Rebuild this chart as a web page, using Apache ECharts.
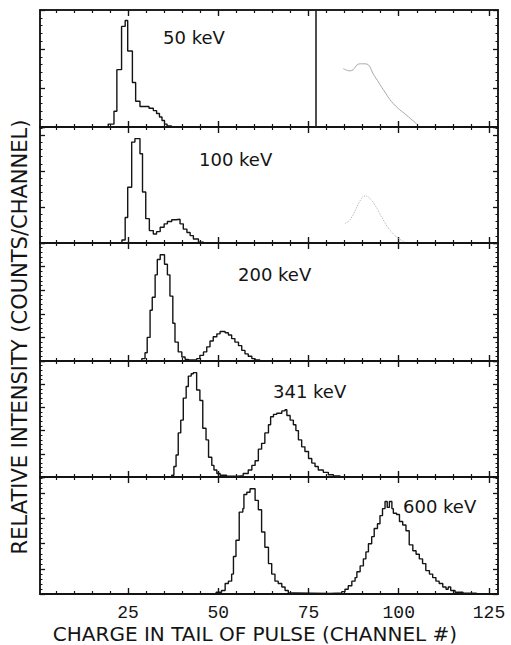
<!DOCTYPE html>
<html><head><meta charset="utf-8">
<script src="https://cdn.jsdelivr.net/npm/echarts@6/dist/echarts.min.js"></script>
<style>html,body{margin:0;padding:0;background:#fff}#c{width:511px;height:645px}</style>
</head><body><div id="c"></div>
<script>
// ---- data (channel edge of each histogram step, relative intensity in % of panel height) ----
const energyLabels = ['50 keV', '100 keV', '200 keV', '341 keV', '600 keV'];
const xTickLabels = [25, 50, 75, 100, 125];
const xMinorTicks = [5,10,15,20,30,35,40,45,55,60,65,70,80,85,90,95,105,110,115,120];

const ch50  = [19.5, 21.1, 21.9, 23.2, 24.2, 24.9, 26.2, 27.1, 28.3, 30.8, 32.0, 32.9, 33.7, 34.4, 35.1, 35.8, 37.0];
const cnt50 = [2.5, 13.5, 49, 86, 91, 65, 38, 22, 17.5, 16, 14, 11.5, 8.5, 5.5, 2.5, 1, 0];

const ch100  = [23.3, 24.2, 24.9, 26.0, 26.9, 28.3, 29.0, 29.9, 30.9, 32.0, 32.9, 33.9, 35.0, 35.9, 37.1, 38.3, 39.4, 40.3, 41.3, 42.2, 43.1, 44.5, 46.0];
const cnt100 = [2.6, 22, 48, 87, 90, 77, 44, 21, 10.7, 7.8, 9.8, 13.6, 16.5, 18.5, 20, 20.5, 16.5, 12, 9, 6.4, 3.5, 0.6, 0];

const ch200  = [28.8, 29.7, 30.3, 31.1, 31.7, 32.5, 33.1, 33.9, 35.1, 35.9, 36.6, 37.4, 38.0, 38.9, 39.9, 40.8, 41.7, 43.0, 44.0, 44.9, 45.9, 46.8, 47.7, 48.6, 49.6, 50.5, 51.9, 52.8, 53.7, 54.6, 55.6, 56.5, 57.4, 58.3, 59.3, 60.2, 61.5];
const cnt200 = [2, 7, 20, 43, 54, 73, 86, 90, 82, 73, 55, 32, 16, 7.7, 3.4, 1.4, 0.8, 1, 2, 4.8, 7.7, 12, 17, 20.5, 23, 25, 24, 22, 19, 16, 13, 9, 6, 4, 2, 0.8, 0];

const ch341  = [37.1, 37.7, 38.3, 38.9, 39.6, 40.3, 41.1, 41.7, 42.5, 43.1, 44.0, 44.9, 45.7, 46.6, 47.3, 48.2, 48.8, 49.6, 50.5, 52.3, 55.5, 56.9, 58.3, 59.3, 60.2, 61.1, 62.0, 62.9, 63.9, 64.5, 65.3, 66.2, 67.6, 68.5, 69.0, 69.9, 70.8, 71.5, 72.2, 73.1, 74.0, 75.0, 75.9, 76.8, 77.7, 79.1, 80.5, 81.9, 83.7];
const cnt341 = [1.5, 9, 19, 38, 49, 68, 78, 87, 89, 90, 75, 66, 42, 32, 17, 10, 6, 3, 1.5, 0.6, 1.2, 3, 6, 10, 14, 24, 29, 38, 45, 52, 54, 55, 57, 58, 53, 49, 45, 40, 32, 26, 22, 16, 12, 9, 6, 4, 2, 1, 0];

const ch600  = [49.4, 50.9, 51.9, 52.8, 53.7, 54.2, 54.9, 55.8, 56.8, 57.1, 57.9, 58.8, 60.2, 61.1, 62.0, 62.9, 63.9, 64.8, 65.7, 66.6, 67.6, 68.5, 69.4, 71.0, 81.0, 84.2, 85.1, 86.0, 87.0, 87.9, 88.4, 89.3, 90.2, 90.9, 91.6, 92.5, 93.2, 94.1, 94.8, 95.5, 96.2, 96.8, 97.4, 98.1, 98.5, 99.4, 100.2, 101.1, 102.0, 102.9, 103.9, 104.8, 105.7, 106.6, 107.5, 108.5, 109.4, 110.3, 111.2, 112.2, 113.1, 113.7, 114.4, 115.6, 117.8, 121.6];
const cnt600 = [1.5, 3, 9, 11, 17, 32, 46, 70, 73, 85, 87, 90, 80, 72, 53, 40, 26, 17, 11, 9, 6, 3, 1, 0.5, 1, 2, 4, 7, 11, 14, 19, 24, 30, 36, 43, 49, 56, 60, 67, 73, 79, 74, 79, 73, 69, 68, 62, 59, 54, 42, 37, 34, 30, 26, 20, 17, 14, 11, 9, 6, 4, 6, 3, 1.5, 0.6, 0];

// faint show-through marks from the scanned page
const ghostLineChannel = 77;
const ghost50Ch  = [84.6, 86.5, 89.3, 90.7, 93.4, 95.7, 98.5, 102.2, 105.0];
const ghost50Val = [50, 48, 54, 54, 43, 32, 20, 10, 2.6];
const ghost100Ch  = [85.1, 86.5, 89.7, 90.7, 92.0, 93.9, 95.7, 97.6, 99.9, 101.7];
const ghost100Val = [17, 20, 38.5, 40.5, 38.5, 30, 20, 11, 4, 1];

const panelCh  = [ch50, ch100, ch200, ch341, ch600];
const panelCnt = [cnt50, cnt100, cnt200, cnt341, cnt600];

// ---- layout ----
const panelBounds = [10, 127, 243, 361, 477, 594];
const yIntervals = [100 / 3, 31, 20, 20, 21.5];
const labelPos = [[163, 37], [199, 159], [238, 274], [273, 391], [403, 506]];
const INK = '#141414';

const grids = [], xAxes = [], yAxes = [], series = [];
for (let p = 0; p < 5; p++) {
  grids.push({ left: 40, right: 13, top: panelBounds[p], height: panelBounds[p + 1] - panelBounds[p],
    show: true, borderColor: INK, borderWidth: 1.5, backgroundColor: 'transparent' });
  const baseX = { gridIndex: p, type: 'value', min: 0.6, max: 127.5, splitLine: { show: false } };
  // bottom major
  xAxes.push(Object.assign({}, baseX, { position: 'bottom',
    axisLine: { show: true, onZero: false, lineStyle: { color: INK, width: 1.8 } },
    axisTick: { show: true, inside: true, length: 6, customValues: xTickLabels, lineStyle: { color: INK, width: 1.4 } },
    axisLabel: { show: p === 4, customValues: xTickLabels, margin: 10, fontFamily: 'Liberation Mono', fontSize: 18, color: INK } }));
  // bottom minor
  xAxes.push(Object.assign({}, baseX, { position: 'bottom',
    axisLine: { show: false, onZero: false },
    axisTick: { show: true, inside: true, length: 3, customValues: xMinorTicks, lineStyle: { color: INK, width: 1.2 } },
    axisLabel: { show: false } }));
  // top major
  xAxes.push(Object.assign({}, baseX, { position: 'top',
    axisLine: { show: true, onZero: false, lineStyle: { color: INK, width: 1.5 } },
    axisTick: { show: true, inside: true, length: 6, customValues: xTickLabels, lineStyle: { color: INK, width: 1.4 } },
    axisLabel: { show: false } }));
  // top minor
  xAxes.push(Object.assign({}, baseX, { position: 'top',
    axisLine: { show: false, onZero: false },
    axisTick: { show: true, inside: true, length: 3, customValues: xMinorTicks, lineStyle: { color: INK, width: 1.2 } },
    axisLabel: { show: false } }));

  ['left', 'right'].forEach(pos => {
    yAxes.push({ gridIndex: p, type: 'value', min: 0, max: 100, interval: yIntervals[p], position: pos,
      axisLine: { show: true, onZero: false, lineStyle: { color: INK, width: 1.5 } },
      axisTick: { show: true, inside: true, length: 5, lineStyle: { color: INK, width: 1.3 } },
      minorTick: { show: true, splitNumber: 5, length: 2.5, lineStyle: { color: INK, width: 1 } },
      axisLabel: { show: false }, splitLine: { show: false } });
  });

  const ch = panelCh[p], cnt = panelCnt[p];
  const data = [[ch[0], 0]].concat(ch.map((c, i) => [c, cnt[i]]));
  series.push({ type: 'line', xAxisIndex: 4 * p, yAxisIndex: 2 * p, step: 'end', data,
    symbol: 'none', lineStyle: { color: INK, width: 1.4 }, silent: true, z: 5 });
}

series.push({ type: 'line', xAxisIndex: 0, yAxisIndex: 0, smooth: true, symbol: 'none',
  data: ghost50Ch.map((c, i) => [c, ghost50Val[i]]), lineStyle: { color: '#a8a8a8', width: 1 }, silent: true,
  markLine: { silent: true, symbol: 'none', label: { show: false },
    lineStyle: { color: '#222', width: 1.6, type: 'solid' }, data: [{ xAxis: ghostLineChannel }] } });
series.push({ type: 'line', xAxisIndex: 4, yAxisIndex: 2, smooth: true, symbol: 'none',
  data: ghost100Ch.map((c, i) => [c, ghost100Val[i]]), lineStyle: { color: '#b4b4b4', width: 1, type: 'dotted' }, silent: true });

const graphics = energyLabels.map((t, i) => ({ type: 'text', x: labelPos[i][0], y: labelPos[i][1], silent: true,
  style: { text: t, font: '18px "DejaVu Sans"', fill: INK, align: 'left', verticalAlign: 'middle' } }));
graphics.push({ type: 'text', x: 255, y: 634, silent: true,
  style: { text: 'CHARGE IN TAIL OF PULSE (CHANNEL #)', font: '20px "DejaVu Sans"', fill: INK, align: 'center', verticalAlign: 'middle' } });
graphics.push({ type: 'text', x: 20, y: 337, rotation: Math.PI / 2, silent: true,
  style: { text: 'RELATIVE INTENSITY (COUNTS/CHANNEL)', font: '21px "DejaVu Sans"', fill: INK, align: 'center', verticalAlign: 'middle' } });

const chart = echarts.init(document.getElementById('c'), null, { renderer: 'svg' });
chart.setOption({ animation: false, backgroundColor: '#fff', grid: grids, xAxis: xAxes, yAxis: yAxes, series, graphic: graphics });
</script></body></html>
